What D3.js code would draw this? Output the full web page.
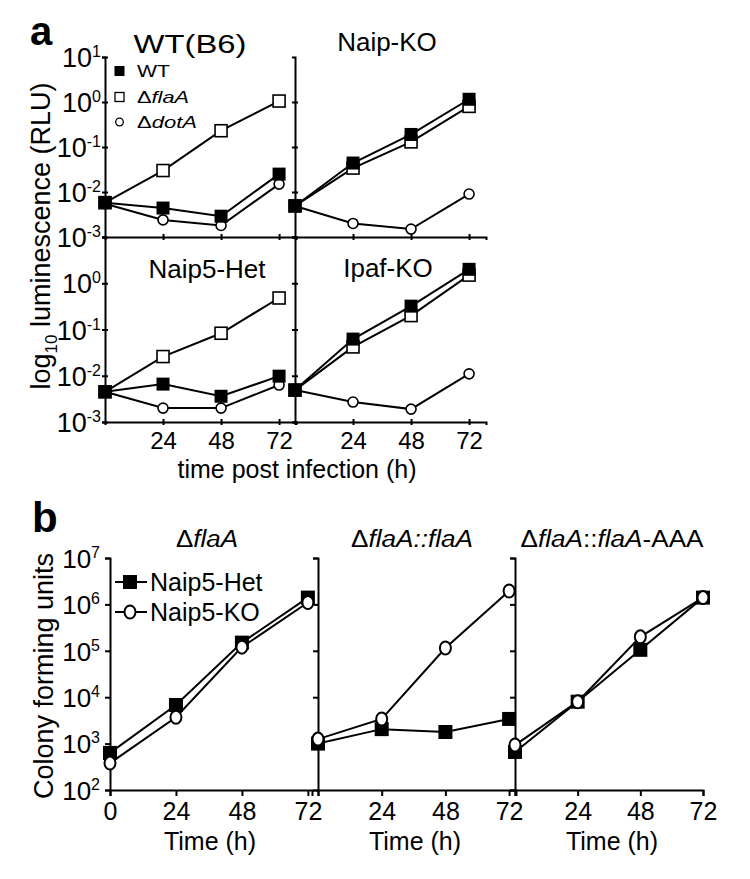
<!DOCTYPE html>
<html><head><meta charset="utf-8">
<script src="https://cdn.jsdelivr.net/npm/d3@7"></script>
<style>
body{margin:0;background:#fff}
svg text{font-family:"Liberation Sans",Arial,sans-serif;fill:#000}
</style>
</head><body>
<svg id="chart" width="750" height="879"></svg>
<script>
// ---------- Panel a data (luminescence, RLU) ----------
const timesA = [0, 24, 48, 72];
const xTicksA = [24, 48, 72];
const yTicksATop = [1e-3, 1e-2, 1e-1, 1e0, 1e1];
const yTicksABottom = [1e-3, 1e-2, 1e-1, 1e0];
const seriesA = ["WT", "ΔflaA", "ΔdotA"];
const titlesA = ["WT(B6)", "Naip-KO", "Naip5-Het", "Ipaf-KO"];

const wtB6_WT   = [5.8e-3, 4.4e-3, 2.9e-3, 0.025];
const wtB6_flaA = [5.8e-3, 0.030, 0.23, 1.05];
const wtB6_dotA = [5.5e-3, 2.4e-3, 1.8e-3, 0.015];

const naipKO_WT   = [4.9e-3, 0.044, 0.19, 1.15];
const naipKO_flaA = [4.9e-3, 0.034, 0.13, 0.80];
const naipKO_dotA = [4.9e-3, 2.0e-3, 1.5e-3, 9.0e-3];

const naip5Het_WT   = [4.5e-3, 6.6e-3, 3.6e-3, 9.8e-3];
const naip5Het_flaA = [4.5e-3, 0.026, 0.083, 0.48];
const naip5Het_dotA = [4.5e-3, 2.0e-3, 2.0e-3, 6.3e-3];

const ipafKO_WT   = [4.9e-3, 0.062, 0.32, 2.0];
const ipafKO_flaA = [4.9e-3, 0.042, 0.20, 1.5];
const ipafKO_dotA = [4.9e-3, 2.7e-3, 1.9e-3, 0.011];

// ---------- Panel b data (colony forming units) ----------
const timesB = [0, 24, 48, 72];
const yTicksB = [1e2, 1e3, 1e4, 1e5, 1e6, 1e7];
const seriesB = ["Naip5-Het", "Naip5-KO"];

const flaA_Het = [630, 6800, 1.5e5, 1.4e6];
const flaA_KO  = [380, 3700, 1.2e5, 1.1e6];
const comp_Het = [1000, 2050, 1780, 3400];
const comp_KO  = [1250, 3400, 1.15e5, 1.95e6];
const aaa_Het  = [660, 8000, 1.05e5, 1.4e6];
const aaa_KO   = [930, 8000, 2.0e5, 1.4e6];

const svg = d3.select("#chart");

function powLabel(sel, supFs, supDy) {
  sel.each(function(d) {
    const t = d3.select(this);
    t.text(null);
    const e = Math.round(Math.log10(d));
    t.append("tspan").text("10");
    t.append("tspan").attr("font-size", supFs).attr("dy", supDy).text(String(e));
  });
}

function styleAxis(g) {
  g.select(".domain").attr("stroke", "#000").attr("stroke-width", 2);
  g.selectAll(".tick line").attr("stroke", "#000").attr("stroke-width", 2);
}

// ================= PANEL a =================
const panelsA = [
  {title: titlesA[0], wt: wtB6_WT, fla: wtB6_flaA, dot: wtB6_dotA, xr: [105, 296], yr: [237, 57], yLab: true, xLab: false, ticks: yTicksATop, tx: 190, ty: 53, tl: 113},
  {title: titlesA[1], wt: naipKO_WT, fla: naipKO_flaA, dot: naipKO_dotA, xr: [295, 486], yr: [237, 57], yLab: false, xLab: false, ticks: yTicksABottom, tx: 387, ty: 51},
  {title: titlesA[2], wt: naip5Het_WT, fla: naip5Het_flaA, dot: naip5Het_dotA, xr: [105, 296], yr: [422, 237], yLab: true, xLab: true, ticks: yTicksABottom, tx: 207, ty: 278},
  {title: titlesA[3], wt: ipafKO_WT, fla: ipafKO_flaA, dot: ipafKO_dotA, xr: [295, 486], yr: [422, 237], yLab: false, xLab: true, ticks: yTicksABottom, tx: 388, ty: 277}
];

panelsA.forEach(p => {
  const x = d3.scaleLinear().domain([0, 79]).range(p.xr);
  const y = d3.scaleLog().domain([1e-3, 10]).range(p.yr);
  const g = svg.append("g");

  const ya = g.append("g").attr("transform", `translate(${p.xr[0]},0)`)
    .call(d3.axisLeft(y).tickValues(p.ticks).tickSizeOuter(0).tickSize(3).tickFormat(d => d));
  styleAxis(ya);
  ya.selectAll(".tick line").attr("x1", -3).attr("x2", 3);
  if (p.yLab) {
    ya.selectAll(".tick text").attr("x", -4).attr("dy", "0.36em").attr("font-size", 27)
      .attr("fill", "#000").attr("font-family", null).call(powLabel, 16, -10);
  } else {
    ya.selectAll(".tick text").remove();
  }

  const xa = g.append("g").attr("transform", `translate(0,${p.yr[0]})`)
    .call(d3.axisBottom(x).tickValues(xTicksA).tickSizeOuter(0).tickSize(3));
  styleAxis(xa);
  xa.selectAll(".tick line").attr("y1", -3).attr("y2", 3);
  if (p.xLab) {
    xa.selectAll(".tick text").attr("y", 27).attr("dy", 0).attr("font-size", 24).attr("fill", "#000").attr("font-family", null);
  } else {
    xa.selectAll(".tick text").remove();
  }

  const tt = g.append("text").attr("x", p.tx).attr("y", p.ty).attr("text-anchor", "middle")
    .attr("font-size", 26).text(p.title);
  if (p.tl) tt.attr("textLength", p.tl).attr("lengthAdjust", "spacingAndGlyphs");

  const line = d3.line().x((d, i) => x(timesA[i])).y(d => y(d));
  [p.dot, p.fla, p.wt].forEach(arr => {
    g.append("path").datum(arr).attr("d", line).attr("fill", "none").attr("stroke", "#000").attr("stroke-width", 2);
  });
  g.selectAll(null).data(p.dot).enter().append("circle")
    .attr("cx", (d, i) => x(timesA[i])).attr("cy", d => y(d)).attr("r", 5)
    .attr("fill", "#fff").attr("stroke", "#000").attr("stroke-width", 1.6);
  g.selectAll(null).data(p.fla).enter().append("rect")
    .attr("x", (d, i) => x(timesA[i]) - 6).attr("y", d => y(d) - 6).attr("width", 12).attr("height", 12)
    .attr("fill", "#fff").attr("stroke", "#000").attr("stroke-width", 1.6);
  g.selectAll(null).data(p.wt).enter().append("rect")
    .attr("x", (d, i) => x(timesA[i]) - 6.5).attr("y", d => y(d) - 6.5).attr("width", 13).attr("height", 13)
    .attr("fill", "#000");
});

// panel a legend
const legA = svg.append("g");
const legRows = [71, 97, 122];
legA.append("rect").attr("x", 114.5).attr("y", legRows[0] - 5).attr("width", 10).attr("height", 10).attr("fill", "#000");
legA.append("rect").attr("x", 115).attr("y", legRows[1] - 4.5).attr("width", 9).attr("height", 9).attr("fill", "#fff").attr("stroke", "#000").attr("stroke-width", 1.3);
legA.append("circle").attr("cx", 119.5).attr("cy", legRows[2]).attr("r", 3.8).attr("fill", "#fff").attr("stroke", "#000").attr("stroke-width", 1.3);
const legLens = [33, 52, 60];
seriesA.forEach((s, i) => {
  const t = legA.append("text").attr("x", 137).attr("y", legRows[i] + 6).attr("font-size", 17)
    .attr("textLength", legLens[i]).attr("lengthAdjust", "spacingAndGlyphs");
  if (i === 0) t.text(s);
  else { t.append("tspan").text("Δ"); t.append("tspan").attr("font-style", "italic").text(s.slice(1)); }
});

svg.append("text").attr("x", 30).attr("y", 45).attr("font-size", 40).attr("font-weight", "bold").text("a");
const ylA = svg.append("text").attr("transform", "translate(50,236) rotate(-90)").attr("text-anchor", "middle").attr("font-size", 27);
ylA.append("tspan").text("log");
ylA.append("tspan").attr("font-size", 17).attr("dy", 7).text("10");
ylA.append("tspan").attr("dy", -7).text(" luminescence (RLU)");
svg.append("text").attr("x", 297).attr("y", 478).attr("text-anchor", "middle").attr("font-size", 25).text("time post infection (h)");

// ================= PANEL b =================
const panelsB = [
  {het: flaA_Het, ko: flaA_KO, dom: 73.5, xr: [110, 312], yLab: true, zeroLab: true, tx: 207, tl: 62, title: [["Δ", false], ["flaA", true]], lx: 210},
  {het: comp_Het, ko: comp_KO, dom: 74.6, xr: [318, 516], yLab: false, zeroLab: false, tx: 412, tl: 122, title: [["Δ", false], ["flaA::flaA", true]], lx: 415},
  {het: aaa_Het, ko: aaa_KO, dom: 72, xr: [515, 703], yLab: false, zeroLab: false, tx: 612, tl: 183, title: [["Δ", false], ["flaA", true], ["::", false], ["flaA", true], ["-AAA", false]], lx: 612}
];

panelsB.forEach(p => {
  const x = d3.scaleLinear().domain([0, p.dom]).range(p.xr);
  const y = d3.scaleLog().domain([1e2, 1e7]).range([790, 558]);
  const g = svg.append("g");

  const ya = g.append("g").attr("transform", `translate(${p.xr[0]},0)`)
    .call(d3.axisLeft(y).tickValues(yTicksB).tickSizeOuter(0).tickSize(5).tickFormat(d => d));
  styleAxis(ya);
  if (p.yLab) {
    ya.selectAll(".tick text").attr("x", -10).attr("dy", "0.36em").attr("font-size", 26)
      .attr("fill", "#000").attr("font-family", null).call(powLabel, 16, -10);
  } else ya.selectAll(".tick text").remove();

  const xa = g.append("g").attr("transform", `translate(0,790)`)
    .call(d3.axisBottom(x).tickValues(timesB).tickSizeOuter(0).tickSize(6)
      .tickFormat(d => (d === 0 && !p.zeroLab) ? "" : d));
  styleAxis(xa);
  xa.selectAll(".tick text").attr("y", 30).attr("dy", 0).attr("font-size", 25).attr("fill", "#000").attr("font-family", null);

  const tt = g.append("text").attr("x", p.tx).attr("y", 547).attr("text-anchor", "middle").attr("font-size", 23)
    .attr("textLength", p.tl).attr("lengthAdjust", "spacingAndGlyphs");
  p.title.forEach(([s, it]) => tt.append("tspan").attr("font-style", it ? "italic" : null).text(s));

  g.append("text").attr("x", p.lx).attr("y", 850).attr("text-anchor", "middle").attr("font-size", 25).text("Time (h)");

  const line = d3.line().x((d, i) => x(timesB[i])).y(d => y(d));
  g.append("path").datum(p.het).attr("d", line).attr("fill", "none").attr("stroke", "#000").attr("stroke-width", 2);
  g.append("path").datum(p.ko).attr("d", line).attr("fill", "none").attr("stroke", "#000").attr("stroke-width", 2);
  g.selectAll(null).data(p.het).enter().append("rect")
    .attr("x", (d, i) => x(timesB[i]) - 7).attr("y", d => y(d) - 7).attr("width", 14).attr("height", 14).attr("fill", "#000");
  g.selectAll(null).data(p.ko).enter().append("ellipse")
    .attr("cx", (d, i) => x(timesB[i])).attr("cy", d => y(d)).attr("rx", 5.5).attr("ry", 6.5)
    .attr("fill", "#fff").attr("stroke", "#000").attr("stroke-width", 2);
});

// panel b legend
const legB = svg.append("g");
legB.append("line").attr("x1", 115).attr("x2", 147).attr("y1", 582).attr("y2", 582).attr("stroke", "#000").attr("stroke-width", 2);
legB.append("rect").attr("x", 123).attr("y", 575).attr("width", 14).attr("height", 14).attr("fill", "#000");
legB.append("line").attr("x1", 115).attr("x2", 147).attr("y1", 612).attr("y2", 612).attr("stroke", "#000").attr("stroke-width", 2);
legB.append("ellipse").attr("cx", 130).attr("cy", 612).attr("rx", 5.5).attr("ry", 6.5).attr("fill", "#fff").attr("stroke", "#000").attr("stroke-width", 2);
seriesB.forEach((s, i) => {
  legB.append("text").attr("x", 150).attr("y", 591 + i * 30).attr("font-size", 25).text(s);
});

svg.append("text").attr("x", 32).attr("y", 532).attr("font-size", 42).attr("font-weight", "bold").text("b");
svg.append("text").attr("transform", "translate(53,676) rotate(-90)").attr("text-anchor", "middle").attr("font-size", 27).text("Colony forming units");
</script>
</body></html>
